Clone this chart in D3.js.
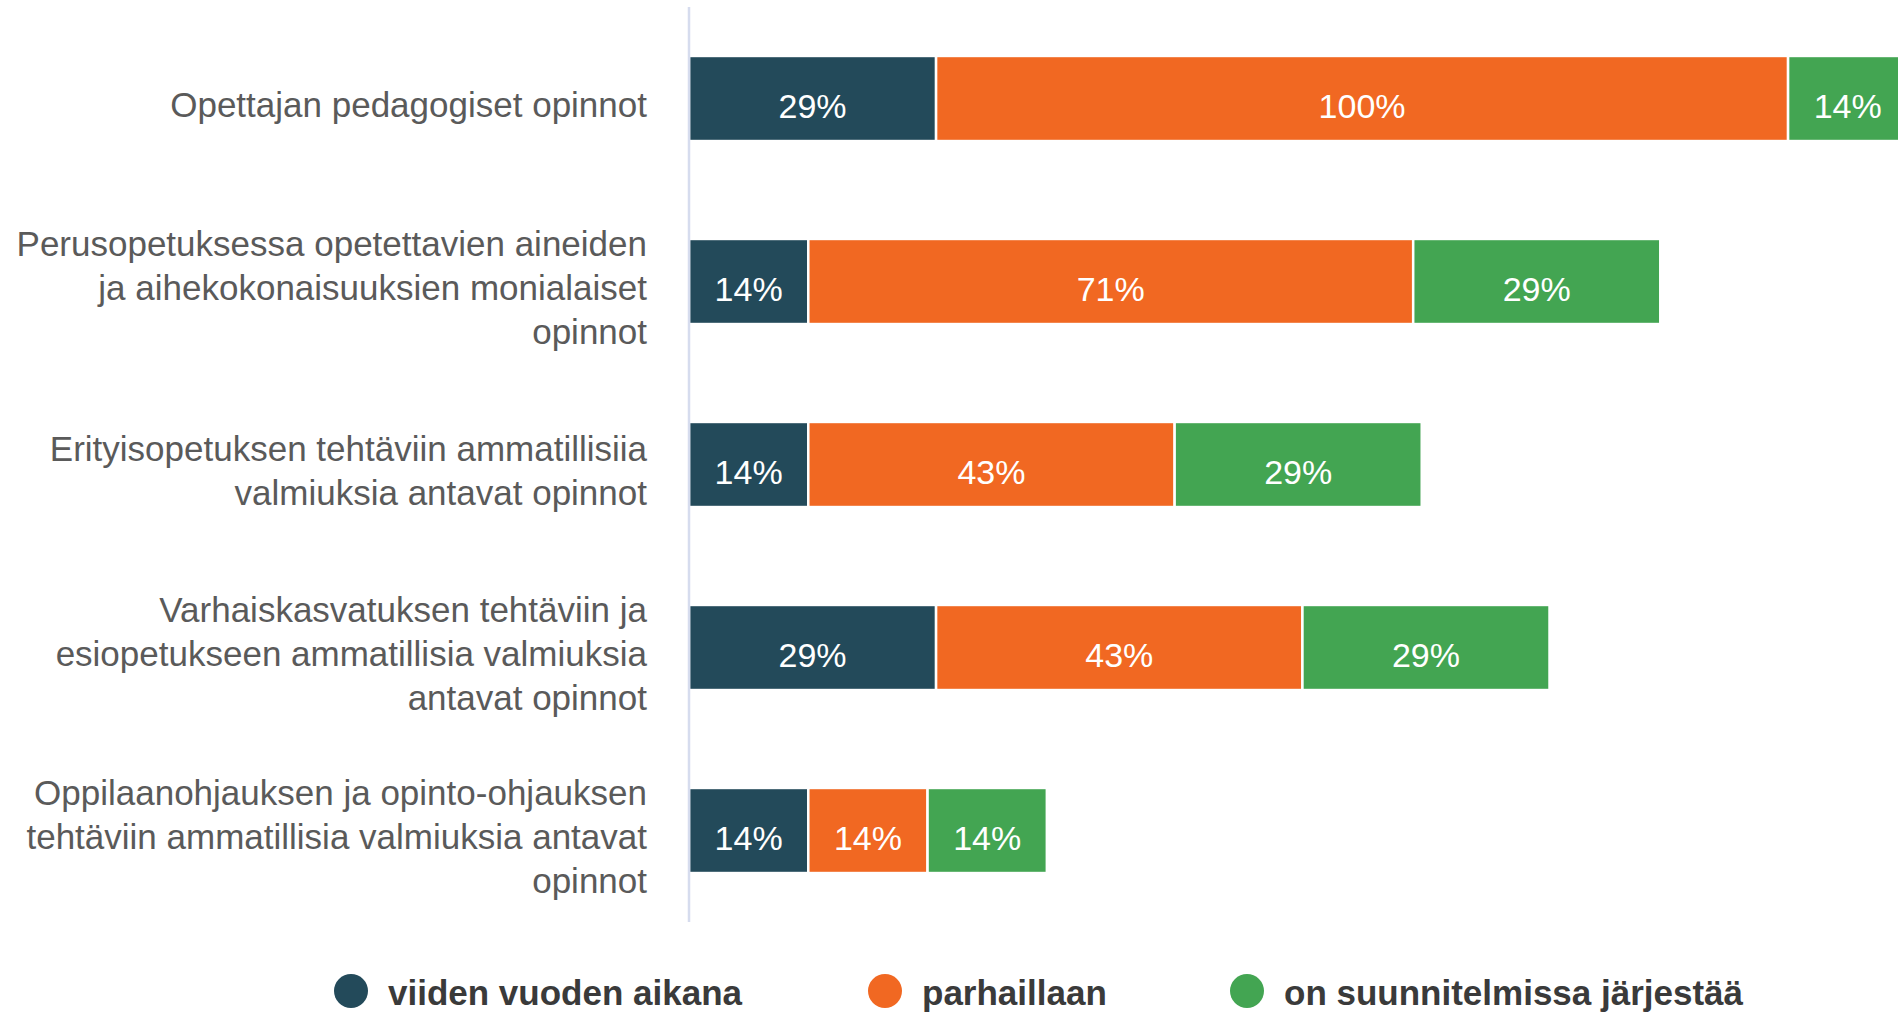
<!DOCTYPE html>
<html>
<head>
<meta charset="utf-8">
<script src="https://cdn.jsdelivr.net/npm/d3@7"></script>
<style>
  html, body { margin: 0; padding: 0; background: #ffffff; overflow: hidden; }
  svg { display: block; }
</style>
</head>
<body>
<svg id="chart" width="1898" height="1013"></svg>
<script>
// ---- Data ----
const categories = [
  "Opettajan pedagogiset opinnot",
  "Perusopetuksessa opetettavien aineiden ja aihekokonaisuuksien monialaiset opinnot",
  "Erityisopetuksen tehtäviin ammatillisiia valmiuksia antavat opinnot",
  "Varhaiskasvatuksen tehtäviin ja esiopetukseen ammatillisia valmiuksia antavat opinnot",
  "Oppilaanohjauksen ja opinto-ohjauksen tehtäviin ammatillisia valmiuksia antavat opinnot"
];
const categoryLines = [
  ["Opettajan pedagogiset opinnot"],
  ["Perusopetuksessa opetettavien aineiden", "ja aihekokonaisuuksien monialaiset", "opinnot"],
  ["Erityisopetuksen tehtäviin ammatillisiia", "valmiuksia antavat opinnot"],
  ["Varhaiskasvatuksen tehtäviin ja", "esiopetukseen ammatillisia valmiuksia", "antavat opinnot"],
  ["Oppilaanohjauksen ja opinto-ohjauksen", "tehtäviin ammatillisia valmiuksia antavat", "opinnot"]
];
const seriesNames = ["viiden vuoden aikana", "parhaillaan", "on suunnitelmissa järjestää"];
const viidenVuodenAikana = [29, 14, 14, 29, 14];
const parhaillaan = [100, 71, 43, 43, 14];
const onSuunnitelmissa = [14, 29, 29, 29, 14];
const seriesColors = ["#234a5a", "#f16822", "#43a552"];

// ---- Build table ----
const table = categories.map((c, i) => ({
  category: c,
  [seriesNames[0]]: viidenVuodenAikana[i],
  [seriesNames[1]]: parhaillaan[i],
  [seriesNames[2]]: onSuunnitelmissa[i]
}));
const stacked = d3.stack().keys(seriesNames)(table);

// ---- Layout ----
const svg = d3.select("#chart");
const axisX = 689;
const x = d3.scaleLinear().domain([0, 100]).range([axisX, axisX + 852]);
const y = d3.scaleBand().domain(categories).range([7, 922]).paddingInner(0.535).paddingOuter(0.2675);
const color = d3.scaleOrdinal().domain(seriesNames).range(seriesColors);

// bars
const g = svg.append("g");
g.selectAll("g.series")
  .data(stacked)
  .join("g")
  .attr("class", "series")
  .attr("fill", d => color(d.key))
  .selectAll("rect")
  .data(d => d)
  .join("rect")
  .attr("x", d => x(d[0]))
  .attr("y", d => y(d.data.category))
  .attr("width", d => x(d[1]) - x(d[0]))
  .attr("height", y.bandwidth())
  .attr("stroke", "#ffffff")
  .attr("stroke-width", 2.5);

// value labels
g.selectAll("g.labels")
  .data(stacked)
  .join("g")
  .attr("class", "labels")
  .selectAll("text")
  .data(d => d)
  .join("text")
  .attr("x", d => (x(d[0]) + x(d[1])) / 2)
  .attr("y", d => y(d.data.category) + y.bandwidth() / 2)
  .attr("dy", "0.56em")
  .attr("text-anchor", "middle")
  .attr("font-family", "'Liberation Sans', Arial, sans-serif")
  .attr("font-size", 34)
  .attr("fill", "#ffffff")
  .text(d => (d[1] - d[0]) + "%");

// vertical axis line
svg.append("line")
  .attr("x1", axisX).attr("x2", axisX)
  .attr("y1", y.range()[0]).attr("y2", y.range()[1])
  .attr("stroke", "#d6dcee")
  .attr("stroke-width", 2.5);

// category labels
const lineH = 43.6;
const catG = svg.append("g");
categories.forEach((c, i) => {
  const lines = categoryLines[i];
  const cy = y(c) + y.bandwidth() / 2 + 18.5;
  const t = catG.append("text")
    .attr("text-anchor", "end")
    .attr("font-family", "'Liberation Sans', Arial, sans-serif")
    .attr("font-size", 35)
    .attr("fill", "#5a5a5a");
  lines.forEach((ln, j) => {
    t.append("tspan")
      .attr("x", 647)
      .attr("y", cy + (j - (lines.length - 1) / 2) * lineH)
      .text(ln);
  });
});

// legend
const legendX = [351, 885, 1247];
const legend = svg.append("g");
seriesNames.forEach((s, i) => {
  legend.append("circle")
    .attr("cx", legendX[i])
    .attr("cy", 991)
    .attr("r", 17)
    .attr("fill", color(s));
  legend.append("text")
    .attr("x", legendX[i] + 37)
    .attr("y", 1005)
    .attr("font-family", "'Liberation Sans', Arial, sans-serif")
    .attr("font-size", 35)
    .attr("font-weight", "bold")
    .attr("fill", "#3a3a3a")
    .text(s);
});
</script>
</body>
</html>
